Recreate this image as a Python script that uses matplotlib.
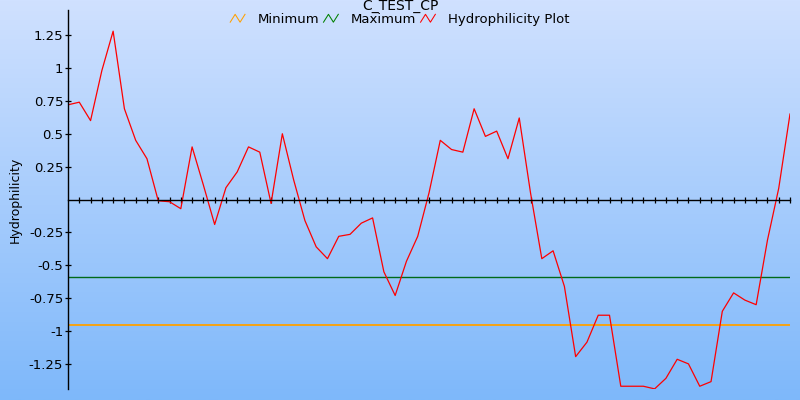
import numpy as np
import matplotlib
matplotlib.use("Agg")
import matplotlib.pyplot as plt
from matplotlib.lines import Line2D
from matplotlib.legend_handler import HandlerBase

# data
hydro = [0.72, 0.74, 0.60, 0.98, 1.28, 0.69, 0.45, 0.31, -0.01, -0.017,
         -0.07, 0.40, 0.11, -0.19, 0.09, 0.21, 0.40, 0.36, -0.03, 0.50,
         0.15, -0.16, -0.36, -0.45, -0.28, -0.265, -0.18, -0.14, -0.55, -0.73,
         -0.47, -0.28, 0.05, 0.45, 0.38, 0.36, 0.69, 0.48, 0.52, 0.31,
         0.62, 0.05, -0.45, -0.39, -0.66, -1.195, -1.085, -0.88, -0.88, -1.42,
         -1.42, -1.42, -1.44, -1.36, -1.215, -1.25, -1.42, -1.385, -0.85, -0.71,
         -0.765, -0.80, -0.31, 0.085, 0.65]
minimum = -0.955
maximum = -0.59
ytick_vals = [1.25, 1, 0.75, 0.5, 0.25, -0.25, -0.5, -0.75, -1, -1.25]
ytick_labels = ["1.25", "1", "0.75", "0.5", "0.25", "-0.25", "-0.5", "-0.75", "-1", "-1.25"]
title = "C_TEST_CP"


class ZigzagHandler(HandlerBase):
    # little zigzag icon like the original legend
    def create_artists(self, legend, orig_handle, xdescent, ydescent,
                       width, height, fontsize, trans):
        w = width * 0.7
        xs = np.array([0, w / 3, 2 * w / 3, w]) - xdescent
        ys = np.array([0.1, 0.95, 0.1, 0.95]) * height - ydescent
        line = Line2D(xs, ys, color=orig_handle.get_color(), lw=0.75)
        line.set_transform(trans)
        return [line]


fig = plt.figure(figsize=(8, 4), dpi=100)

# gradient background
bg = fig.add_axes([0, 0, 1, 1], zorder=-1)
top = np.array([208, 225, 255]) / 255
bottom = np.array([126, 184, 250]) / 255
t = np.linspace(0, 1, 256)[:, None]
grad = top * (1 - t) + bottom * t
bg.imshow(grad[:, None, :], aspect="auto", extent=[0, 1, 0, 1])
bg.axis("off")

ax = fig.add_axes([0.085, 0.0275, 0.9025, 0.9475])
ax.patch.set_alpha(0)

x = np.arange(len(hydro))
ax.axhline(minimum, color="#ffa000", lw=1.3)
ax.axhline(maximum, color="#006a1a", lw=1.0)
ax.plot(x, hydro, color="red", lw=0.9)

ax.set_xlim(0, len(hydro) - 1)
ax.set_ylim(-1.441, 1.441)

for s in ["top", "right"]:
    ax.spines[s].set_visible(False)
ax.spines["bottom"].set_position(("data", 0))
ax.spines["left"].set_linewidth(1.0)
ax.spines["bottom"].set_linewidth(1.0)

ax.set_xticks(x[1:])
ax.set_xticklabels([])
ax.tick_params(axis="x", direction="inout", length=5, width=0.9)
ax.set_yticks(ytick_vals)
ax.set_yticklabels(ytick_labels, fontsize=9.5)
ax.tick_params(axis="y", direction="inout", length=5, width=0.9, pad=1)

fig.text(0.019, 0.5, "Hydrophilicity", rotation=90, fontsize=9,
         va="center", ha="center")
fig.text(0.5, 1.003, title, fontsize=10, ha="center", va="top")

handles = [Line2D([], [], color="#ffa000"), Line2D([], [], color="#008000"),
           Line2D([], [], color="red")]
fig.legend(handles, ["Minimum", "Maximum", "Hydrophilicity Plot"],
           handler_map={Line2D: ZigzagHandler()}, loc="center",
           bbox_to_anchor=(0.5, 0.951), ncol=3, frameon=False, fontsize=9.5,
           handlelength=1.6, handletextpad=0.5, columnspacing=0.3,
           borderpad=0)

fig.savefig("out.png", dpi=100)
